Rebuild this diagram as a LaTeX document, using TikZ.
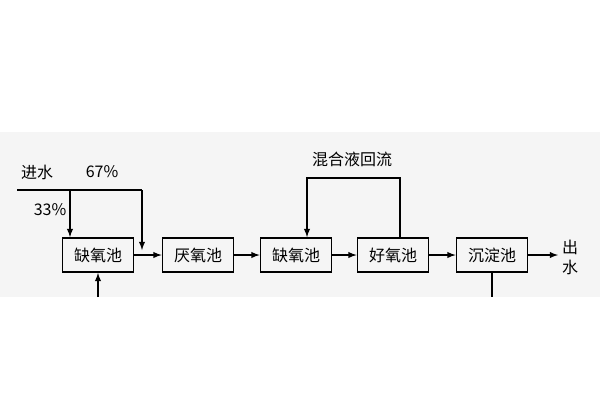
\documentclass[tikz,border=0pt]{standalone}
\usepackage{fontspec}
\newfontfamily\cjk{Noto Sans CJK SC}
\usetikzlibrary{positioning, arrows}
\begin{document}
\begin{tikzpicture}[x=1pt,y=-1pt,font=\cjk\fontsize{16}{16}\selectfont,
  pool/.style={draw,line width=1.8pt,minimum width=71pt,minimum height=34pt,inner sep=0pt},
  flow/.style={line width=1.8pt,-latex}]
\useasboundingbox (0,0) rectangle (600,400);
\fill[gray!8] (0,132) rectangle (600,297);
% pools
\node[pool] (q1) at (98,255) {缺氧池};
\node[pool] (y1) at (198,255) {厌氧池};
\node[pool] (q2) at (296,255) {缺氧池};
\node[pool] (h1) at (393,255) {好氧池};
\node[pool] (c1) at (492,255) {沉淀池};
\coordinate (inl) at (17,190);
\coordinate (out) at (558,255);
\node (jin) at (37,172) {进水};
\node (p67) at (102,172) {67\%};
\node (p33) at (50,210) {33\%};
\node (mix) at (352,159) {混合液回流};
\node[align=center,inner sep=0pt] (chu) at (570,257) {出\\[4pt]水};
% connectors
\draw[line width=1.8pt] (inl) -- (142,190);
\draw[flow] (70,190) -- (q1.north-|70,0);
\draw[flow] (142,190) -- (142,250);
\draw[flow] (q1) -- (y1);
\draw[flow] (y1) -- (q2);
\draw[flow] (q2) -- (h1);
\draw[flow] (h1) -- (c1);
\draw[flow] (c1) -- (out);
\draw[flow] (h1.north-|400,0) -- (400,178) -| (q2.north-|307,0);
\draw[flow] (98,297) -- (q1.south);
\draw[line width=1.8pt] (c1.south) -- (492,297);
\end{tikzpicture}
\end{document}
